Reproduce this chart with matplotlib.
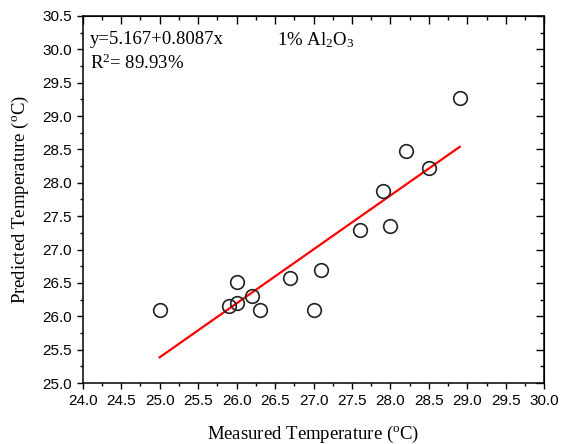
import numpy as np
import matplotlib.pyplot as plt
from matplotlib.ticker import MultipleLocator

plt.rcParams['mathtext.fontset'] = 'custom'
plt.rcParams['mathtext.rm'] = 'Liberation Serif'
plt.rcParams['mathtext.it'] = 'Liberation Serif:italic'

# Measured vs predicted temperature
measured = [25.0, 25.9, 26.0, 26.0, 26.2, 26.3, 26.7, 27.0, 27.1,
            27.6, 27.9, 28.0, 28.2, 28.5, 28.9]
predicted = [26.10, 26.16, 26.20, 26.52, 26.30, 26.10, 26.57, 26.10, 26.69,
             27.29, 27.88, 27.36, 28.47, 28.22, 29.27]

# Regression from the annotation
intercept = 5.167
slope = 0.8087
r2_text = "89.93%"

fig = plt.figure(figsize=(5.64, 4.44), dpi=100)
ax = fig.add_axes([82.7 / 564, 1 - 383 / 444, (544.3 - 82.7) / 564, (383 - 16) / 444])

x_fit = np.array([min(measured), max(measured)])
ax.plot(x_fit, intercept + slope * x_fit, color='red', lw=1.6, zorder=2)

ax.plot(measured, predicted, 'o', ms=9.8, mfc='none', mec='#222222', mew=1.2, zorder=3)

ax.set_xlim(24.0, 30.0)
ax.set_ylim(25.0, 30.5)
ax.xaxis.set_major_locator(MultipleLocator(0.5))
ax.xaxis.set_minor_locator(MultipleLocator(0.25))
ax.yaxis.set_major_locator(MultipleLocator(0.5))
ax.yaxis.set_minor_locator(MultipleLocator(0.25))
ax.xaxis.set_major_formatter(lambda v, p: f"{v:.1f}")
ax.yaxis.set_major_formatter(lambda v, p: f"{v:.1f}")

ax.tick_params(which='major', direction='out', length=4.5, width=1, labelsize=11)
ax.tick_params(which='minor', direction='out', length=2.5, width=1)
for lab in ax.get_xticklabels() + ax.get_yticklabels():
    lab.set_family('Liberation Sans')

for s in ax.spines.values():
    s.set_linewidth(1.1)

# inward ticks on top and right
top = ax.secondary_xaxis('top')
top.xaxis.set_major_locator(MultipleLocator(0.5))
top.xaxis.set_minor_locator(MultipleLocator(0.25))
top.tick_params(which='major', direction='in', length=5.5, width=1, labeltop=False)
top.tick_params(which='minor', direction='in', length=3, width=1)
right = ax.secondary_yaxis('right')
right.yaxis.set_major_locator(MultipleLocator(0.5))
right.yaxis.set_minor_locator(MultipleLocator(0.25))
right.tick_params(which='major', direction='in', length=5.5, width=1, labelright=False)
right.tick_params(which='minor', direction='in', length=3, width=1)

serif = 'Liberation Serif'
ax.set_xlabel(r"Measured Temperature (${}^{\mathrm{o}}$C)", family=serif, fontsize=13.5, labelpad=11)
ax.set_ylabel(r"Predicted Temperature (${}^{\mathrm{o}}$C)", family=serif, fontsize=13.5, labelpad=8)

ax.text(0.015, 0.935, f"y={intercept}+{slope}x", transform=ax.transAxes,
        family=serif, fontsize=13.5, va='center')
ax.text(0.015, 0.87, r"R$^{2}$= " + r2_text, transform=ax.transAxes,
        family=serif, fontsize=13.5, va='center')
ax.text(0.42, 0.935, r"1% Al$_{2}$O$_{3}$", transform=ax.transAxes,
        family=serif, fontsize=13.5, va='center')

fig.savefig("out.png", dpi=100)
